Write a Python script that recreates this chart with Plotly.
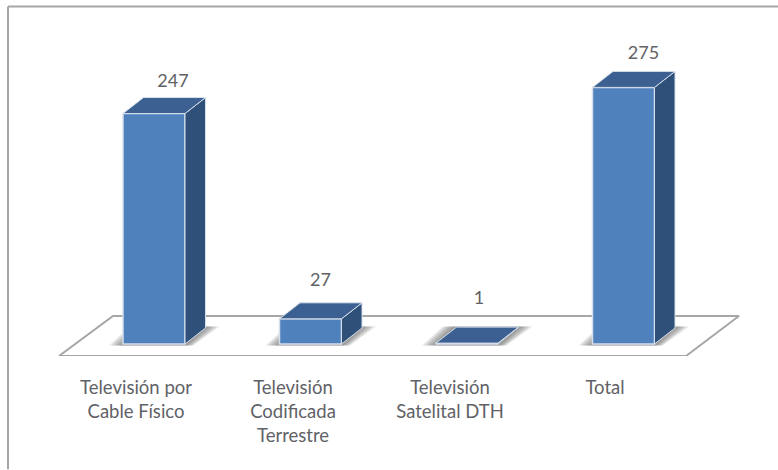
import plotly.graph_objects as go

categories = ["Televisión por<br>Cable Físico", "Televisión<br>Codificada<br>Terrestre",
              "Televisión<br>Satelital DTH", "Total"]
values = [247, 27, 1, 275]
value_labels = ["247", "27", "1", "275"]

# layout constants (pixels)
W, H = 778, 470
BASE_PX = 344.5
FLOOR_FRONT_PX = 356.5
FLOOR_BACK_PX = 316.5
PX_PER_UNIT = 0.9345
BAR_W = 62.0
DX, DY = 20.5, 16.0
bar_left = [123.0, 279.5, 436.0, 592.5]
label_x = [136, 293, 450, 605]
label_gap = [15.5, 21.5, 27.5, 16.5]
label_dx = [19, 10, 12, 20]

FRONT = "#4f81bd"
TOP = "#3b6091"
SIDE = "#2f5079"
EDGE = "#d5deeb"
GREY = "#a6a6a6"
TEXT = "#5f6266"
FONT = "Lato, Carlito, Calibri, sans-serif"

def u(px_up):
    """pixel distance -> value units"""
    return px_up / PX_PER_UNIT

def py(px):
    """page pixel row -> paper coordinate"""
    return (FLOOR_FRONT_PX - px) / FLOOR_FRONT_PX

y_bottom = -u(FLOOR_FRONT_PX - BASE_PX)
y_top = u(BASE_PX)

fig = go.Figure()

# floor
floor_y0 = y_bottom
floor_y1 = u(BASE_PX - FLOOR_BACK_PX)
fig.add_trace(go.Scatter(
    x=[59, 686, 739, 113, 59], y=[floor_y0, floor_y0, floor_y1, floor_y1, floor_y0],
    mode="lines", fill="toself", fillcolor="white",
    line=dict(color=GREY, width=2), hoverinfo="skip", showlegend=False, cliponaxis=False))

# soft floor shadows
for xl in bar_left:
    xr = xl + BAR_W
    yf = u(-1.5)
    yb = u(DY + 1.5)
    for e in [14, 12, 10, 8, 6, 4, 2]:
        fig.add_trace(go.Scatter(
            x=[xl - e, xr + e * 0.6, xr + DX + e, xl + DX - e, xl - e],
            y=[yf, yf, yb, yb, yf],
            mode="lines", fill="toself", fillcolor="rgba(90,90,90,0.13)",
            line=dict(width=0), hoverinfo="skip", showlegend=False))

# front faces
fig.add_trace(go.Bar(
    x=[xl + BAR_W / 2 for xl in bar_left], y=values, width=BAR_W,
    marker=dict(color=FRONT, line=dict(color=EDGE, width=1.5)),
    xaxis="x2", yaxis="y2", hoverinfo="skip", showlegend=False))

# top and side faces
for xl, v in zip(bar_left, values):
    xr = xl + BAR_W
    d = u(DY)
    fig.add_trace(go.Scatter(
        x=[xr, xr + DX, xr + DX, xr, xr], y=[v, v + d, d, 0, v],
        mode="lines", fill="toself", fillcolor=SIDE, line=dict(color=EDGE, width=1),
        xaxis="x2", yaxis="y2", hoverinfo="skip", showlegend=False))
    fig.add_trace(go.Scatter(
        x=[xl, xr, xr + DX, xl + DX, xl], y=[v, v, v + d, v + d, v],
        mode="lines", fill="toself", fillcolor=TOP, line=dict(color=EDGE, width=1),
        xaxis="x2", yaxis="y2", hoverinfo="skip", showlegend=False))

# value labels
fig.add_trace(go.Scatter(
    x=[xl + BAR_W / 2 + dx for xl, dx in zip(bar_left, label_dx)],
    y=[v + u(DY + g) for v, g in zip(values, label_gap)],
    mode="text", text=value_labels, textposition="middle center",
    textfont=dict(family=FONT, size=18, color=TEXT),
    xaxis="x2", yaxis="y2", hoverinfo="skip", showlegend=False, cliponaxis=False))

fig.update_layout(
    width=W, height=H, autosize=False,
    margin=dict(l=0, r=0, t=0, b=H - FLOOR_FRONT_PX),
    paper_bgcolor="white", plot_bgcolor="rgba(0,0,0,0)",
    showlegend=False,
    xaxis=dict(range=[0, W], tickmode="array", tickvals=label_x, ticktext=categories,
               showgrid=False, zeroline=False, showline=False, ticks="", ticklabelstandoff=18,
               tickangle=0, tickfont=dict(family=FONT, size=18.5, color=TEXT), fixedrange=True),
    yaxis=dict(range=[y_bottom, y_top], visible=False, fixedrange=True),
    xaxis2=dict(range=[0, W], overlaying="x", visible=False, fixedrange=True),
    yaxis2=dict(range=[y_bottom, y_top], overlaying="y", visible=False, fixedrange=True),
    shapes=[
        dict(type="line", xref="paper", yref="paper", layer="below",
             x0=8 / W, x1=1, y0=py(6.5), y1=py(6.5), line=dict(color=GREY, width=2)),
        dict(type="line", xref="paper", yref="paper", layer="below",
             x0=8 / W, x1=8 / W, y0=py(6.5), y1=py(H), line=dict(color=GREY, width=2)),
    ],
)
fig.write_html("out.html", config={"displayModeBar": False},
               post_script="document.body.style.margin='0';document.body.style.overflow='hidden';")
